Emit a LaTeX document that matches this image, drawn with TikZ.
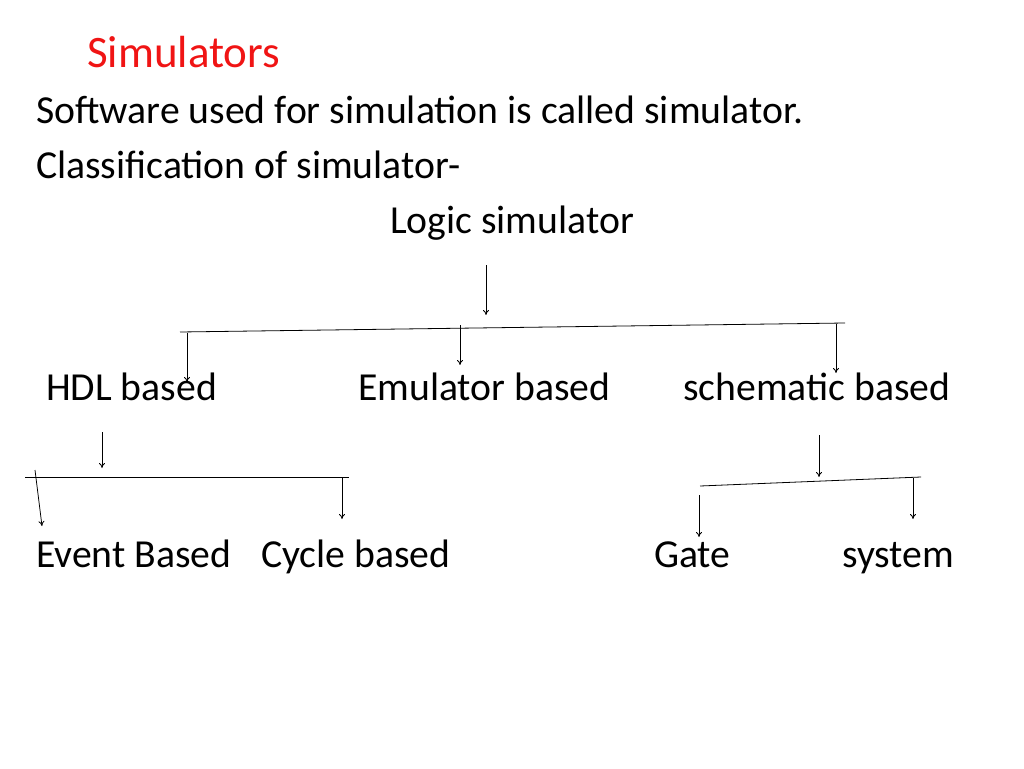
\documentclass[tikz,border=0pt]{standalone}
\usepackage{fontspec}
\setmainfont{Carlito}
\usetikzlibrary{arrows.meta}
\begin{document}
\begin{tikzpicture}[x=1pt,y=-1pt,
  txt/.style={anchor=base west,inner sep=0pt,font=\fontsize{39.7}{44}\selectfont},
  arr/.style={-{To[length=5pt,width=6pt]},line width=0.8pt},
  ln/.style={line width=0.8pt}]
\useasboundingbox (0,0) rectangle (1024,768);
\node[txt,font=\fontsize{45}{50}\selectfont,text={rgb,255:red,240;green,20;blue,20}] (t) at (87,67) {Simulators};
\node[txt] (l1) at (36,123) {Software used for simulation is called simulator.};
\node[txt] (l2) at (36,178) {Classification of simulator-};
\node[txt] (ls) at (390,233) {Logic simulator};
\node[txt] (hdl) at (46,400) {HDL based};
\node[txt] (emu) at (358,400) {Emulator based};
\node[txt] (sch) at (683,400) {schematic based};
\node[txt] (ev) at (36,567) {Event Based};
\node[txt] (cy) at (261,567) {Cycle based};
\node[txt] (ga) at (654,567) {Gate};
\node[txt] (sy) at (842,567) {system};
\coordinate (a1) at (486,265); \coordinate (a2) at (486,315);
\coordinate (h1) at (180,332); \coordinate (h2) at (845,323);
\draw[arr] (a1) -- (a2);
\draw[ln] (h1) -- (h2);
\draw[arr] (187,333) -- (187,382);
\draw[arr] (460,325) -- (460,365);
\draw[arr] (836,324) -- (836,373);
\draw[arr] (102,432) -- (102,468);
\draw[ln] (25,477) -- (349,477);
\draw[arr] (35,470) -- (42,526);
\draw[arr] (342,478) -- (342,519);
\draw[arr] (819,435) -- (819,477);
\draw[ln] (700,486) -- (921,477);
\draw[arr] (699,495) -- (699,537);
\draw[arr] (913,478) -- (913,519);
\end{tikzpicture}
\end{document}
